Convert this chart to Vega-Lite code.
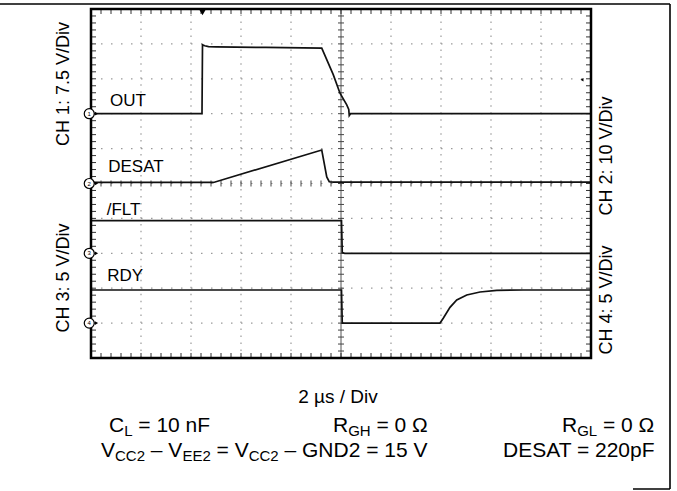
{
  "$schema": "https://vega.github.io/schema/vega-lite/v6.json",
  "width": 500,
  "height": 349,
  "autosize": {"type": "none"},
  "padding": {"left": 91, "top": 9, "right": 86, "bottom": 133},
  "background": "white",
  "config": {"view": {"stroke": null}, "font": "Liberation Sans"},
  "datasets": {
    "xg": [{"t": -8}, {"t": -6}, {"t": -4}, {"t": -2}, {"t": 2}, {"t": 4}, {"t": 6}, {"t": 8}],
    "yg": [{"d": -4}, {"d": -3}, {"d": -2}, {"d": -1}, {"d": 0}, {"d": 1}, {"d": 2}, {"d": 3}, {"d": 4}],
    "xt": [{"t":-10},{"t":-9.6},{"t":-9.2},{"t":-8.8},{"t":-8.4},{"t":-8},{"t":-7.6},{"t":-7.2},{"t":-6.8},{"t":-6.4},{"t":-6},{"t":-5.6},{"t":-5.2},{"t":-4.8},{"t":-4.4},{"t":-4},{"t":-3.6},{"t":-3.2},{"t":-2.8},{"t":-2.4},{"t":-2},{"t":-1.6},{"t":-1.2},{"t":-0.8},{"t":-0.4},{"t":0},{"t":0.4},{"t":0.8},{"t":1.2},{"t":1.6},{"t":2},{"t":2.4},{"t":2.8},{"t":3.2},{"t":3.6},{"t":4},{"t":4.4},{"t":4.8},{"t":5.2},{"t":5.6},{"t":6},{"t":6.4},{"t":6.8},{"t":7.2},{"t":7.6},{"t":8},{"t":8.4},{"t":8.8},{"t":9.2},{"t":9.6},{"t":10}],
    "yt": [{"d":-5},{"d":-4.8},{"d":-4.6},{"d":-4.4},{"d":-4.2},{"d":-4},{"d":-3.8},{"d":-3.6},{"d":-3.4},{"d":-3.2},{"d":-3},{"d":-2.8},{"d":-2.6},{"d":-2.4},{"d":-2.2},{"d":-2},{"d":-1.8},{"d":-1.6},{"d":-1.4},{"d":-1.2},{"d":-1},{"d":-0.8},{"d":-0.6},{"d":-0.4},{"d":-0.2},{"d":0},{"d":0.2},{"d":0.4},{"d":0.6},{"d":0.8},{"d":1},{"d":1.2},{"d":1.4},{"d":1.6},{"d":1.8},{"d":2},{"d":2.2},{"d":2.4},{"d":2.6},{"d":2.8},{"d":3},{"d":3.2},{"d":3.4},{"d":3.6},{"d":3.8},{"d":4},{"d":4.2},{"d":4.4},{"d":4.6},{"d":4.8},{"d":5}],
    "frame": [
      {"t": -13.64, "d": 5.143, "t2": 13.16, "d2": 5.143},
      {"t": 13.16, "d": 5.143, "t2": 13.16, "d2": -8.754},
      {"t": 11.68, "d": -8.754, "t2": 13.16, "d2": -8.754}
    ],
    "gm": [{"d": 2, "n": "1"}, {"d": 0, "n": "2"}, {"d": -2, "n": "3"}, {"d": -4, "n": "4"}],
    "ch1": [
      {"t": -10, "v": 0}, {"t": -5.56, "v": 0}, {"t": -5.54, "v": 14.8}, {"t": -5.45, "v": 14.6},
      {"t": -5.3, "v": 14.4}, {"t": -5.0, "v": 14.35}, {"t": -3, "v": 14.25}, {"t": -0.77, "v": 14.1},
      {"t": -0.31, "v": 8.4}, {"t": -0.04, "v": 4.4}, {"t": 0.23, "v": 1.9}, {"t": 0.31, "v": 0.9},
      {"t": 0.33, "v": -0.4}, {"t": 0.38, "v": 0}, {"t": 10, "v": 0}
    ],
    "ch2": [
      {"t": -10, "v": 0.3}, {"t": -5.1, "v": 0.3}, {"t": -0.77, "v": 9.6}, {"t": -0.57, "v": 1.9},
      {"t": -0.47, "v": 0.5}, {"t": -0.3, "v": 0.4}, {"t": 10, "v": 0.4}
    ],
    "ch3": [
      {"t": -10, "v": 4.67}, {"t": 0.02, "v": 4.67}, {"t": 0.05, "v": 0.1}, {"t": 0.15, "v": 0}, {"t": 10, "v": 0}
    ],
    "ch4": [
      {"t": -10, "v": 4.74}, {"t": 0.02, "v": 4.74}, {"t": 0.05, "v": 0}, {"t": 3.96, "v": 0},
      {"t": 4.09, "v": 0.69}, {"t": 4.36, "v": 2.26}, {"t": 4.63, "v": 3.31}, {"t": 5.03, "v": 4.03},
      {"t": 5.56, "v": 4.46}, {"t": 6.23, "v": 4.7}, {"t": 7.28, "v": 4.74}, {"t": 10, "v": 4.74}
    ],
    "lbl": [
      {"t": -9.24, "d": 2.22, "text": "OUT"},
      {"t": -9.31, "d": 0.34, "text": "DESAT"},
      {"t": -9.37, "d": -0.9, "text": "/FLT"},
      {"t": -9.35, "d": -2.79, "text": "RDY"}
    ],
    "rot": [
      {"t": -11.08, "d": 2.85, "text": "CH 1: 7.5 V/Div"},
      {"t": -11.08, "d": -2.71, "text": "CH 3: 5 V/Div"},
      {"t": 10.64, "d": 0.79, "text": "CH 2: 10 V/Div"},
      {"t": 10.64, "d": -3.34, "text": "CH 4: 5 V/Div"}
    ],
    "timebase": [{"t": -0.12, "d": -6.29, "text": "2 µs / Div"}],
    "btm": [
      {"t": -9.28, "d": -7.12, "text": "C"},
      {"t": -8.108, "d": -7.12, "text": "= 10 nF"},
      {"t": -0.32, "d": -7.12, "text": "R"},
      {"t": 1.42, "d": -7.12, "text": "= 0 Ω"},
      {"t": 8.84, "d": -7.12, "text": "R"},
      {"t": 10.48, "d": -7.12, "text": "= 0 Ω"},
      {"t": -9.6, "d": -7.84, "text": "V"},
      {"t": -7.608, "d": -7.84, "text": "– V"},
      {"t": -4.976, "d": -7.84, "text": "= V"},
      {"t": -2.26, "d": -7.84, "text": "– GND2 = 15 V"},
      {"t": 6.48, "d": -7.84, "text": "DESAT = 220pF"}
    ],
    "sub": [
      {"t": -8.672, "d": -7.235, "text": "L"},
      {"t": 0.288, "d": -7.235, "text": "GH"},
      {"t": 9.448, "d": -7.235, "text": "GL"},
      {"t": -9.04, "d": -7.955, "text": "CC2"},
      {"t": -6.344, "d": -7.955, "text": "EE2"},
      {"t": -3.692, "d": -7.955, "text": "CC2"}
    ]
  },
  "resolve": {"scale": {"y": "independent"}},
  "layer": [
    {
      "layer": [
        {
          "data": {"name": "yg"},
          "mark": {"type": "rule", "color": "#9a9a9a", "strokeWidth": 1.2, "strokeDash": [1.5, 8.5]},
          "encoding": {
            "x": {"datum": -10, "type": "quantitative", "scale": {"domain": [-10, 10]}, "axis": null},
            "x2": {"datum": 10},
            "y": {"field": "d", "type": "quantitative", "scale": {"domain": [-5, 5]}, "axis": null}
          }
        },
        {
          "data": {"name": "xg"},
          "mark": {"type": "rule", "color": "#9a9a9a", "strokeWidth": 1.2, "strokeDash": [1.5, 5.48]},
          "encoding": {
            "x": {"field": "t", "type": "quantitative", "scale": {"domain": [-10, 10]}, "axis": null},
            "y": {"datum": -5, "type": "quantitative", "scale": {"domain": [-5, 5]}, "axis": null},
            "y2": {"datum": 5}
          }
        },
        {
          "data": {"values": [{}]},
          "mark": {"type": "rule", "color": "#555555", "strokeWidth": 1},
          "encoding": {
            "x": {"datum": 0, "type": "quantitative", "scale": {"domain": [-10, 10]}, "axis": null},
            "y": {"datum": -5, "type": "quantitative", "scale": {"domain": [-5, 5]}, "axis": null},
            "y2": {"datum": 5}
          }
        },
        {
          "data": {"name": "xt"},
          "mark": {"type": "rule", "color": "#333333", "strokeWidth": 1},
          "encoding": {
            "x": {"field": "t", "type": "quantitative", "scale": {"domain": [-10, 10]}, "axis": null},
            "y": {"datum": 5, "type": "quantitative", "scale": {"domain": [-5, 5]}, "axis": null},
            "y2": {"datum": 4.857}
          }
        },
        {
          "data": {"name": "xt"},
          "mark": {"type": "rule", "color": "#333333", "strokeWidth": 1},
          "encoding": {
            "x": {"field": "t", "type": "quantitative", "scale": {"domain": [-10, 10]}, "axis": null},
            "y": {"datum": -5, "type": "quantitative", "scale": {"domain": [-5, 5]}, "axis": null},
            "y2": {"datum": -4.857}
          }
        },
        {
          "data": {"name": "xt"},
          "mark": {"type": "rule", "color": "#444444", "strokeWidth": 1},
          "encoding": {
            "x": {"field": "t", "type": "quantitative", "scale": {"domain": [-10, 10]}, "axis": null},
            "y": {"datum": -0.086, "type": "quantitative", "scale": {"domain": [-5, 5]}, "axis": null},
            "y2": {"datum": 0.086}
          }
        },
        {
          "data": {"name": "yt"},
          "mark": {"type": "rule", "color": "#333333", "strokeWidth": 1},
          "encoding": {
            "x": {"datum": -10, "type": "quantitative", "scale": {"domain": [-10, 10]}, "axis": null},
            "x2": {"datum": -9.8},
            "y": {"field": "d", "type": "quantitative", "scale": {"domain": [-5, 5]}, "axis": null}
          }
        },
        {
          "data": {"name": "yt"},
          "mark": {"type": "rule", "color": "#333333", "strokeWidth": 1},
          "encoding": {
            "x": {"datum": 10, "type": "quantitative", "scale": {"domain": [-10, 10]}, "axis": null},
            "x2": {"datum": 9.8},
            "y": {"field": "d", "type": "quantitative", "scale": {"domain": [-5, 5]}, "axis": null}
          }
        },
        {
          "data": {"name": "yt"},
          "mark": {"type": "rule", "color": "#444444", "strokeWidth": 1},
          "encoding": {
            "x": {"datum": -0.12, "type": "quantitative", "scale": {"domain": [-10, 10]}, "axis": null},
            "x2": {"datum": 0.12},
            "y": {"field": "d", "type": "quantitative", "scale": {"domain": [-5, 5]}, "axis": null}
          }
        }
      ]
    },
    {
      "data": {"name": "ch1"},
      "mark": {"type": "line", "color": "#111111", "strokeWidth": 1.7},
      "encoding": {
        "x": {"field": "t", "type": "quantitative", "scale": {"domain": [-10, 10]}, "axis": null},
        "y": {"field": "v", "type": "quantitative", "scale": {"domain": [-52.5, 22.5]}, "axis": null}
      }
    },
    {
      "data": {"name": "ch2"},
      "mark": {"type": "line", "color": "#111111", "strokeWidth": 1.7},
      "encoding": {
        "x": {"field": "t", "type": "quantitative", "scale": {"domain": [-10, 10]}, "axis": null},
        "y": {"field": "v", "type": "quantitative", "scale": {"domain": [-50, 50]}, "axis": null}
      }
    },
    {
      "data": {"name": "ch3"},
      "mark": {"type": "line", "color": "#111111", "strokeWidth": 1.7},
      "encoding": {
        "x": {"field": "t", "type": "quantitative", "scale": {"domain": [-10, 10]}, "axis": null},
        "y": {"field": "v", "type": "quantitative", "scale": {"domain": [-15, 35]}, "axis": null}
      }
    },
    {
      "data": {"name": "ch4"},
      "mark": {"type": "line", "color": "#111111", "strokeWidth": 1.7},
      "encoding": {
        "x": {"field": "t", "type": "quantitative", "scale": {"domain": [-10, 10]}, "axis": null},
        "y": {"field": "v", "type": "quantitative", "scale": {"domain": [-5, 45]}, "axis": null}
      }
    },
    {
      "layer": [
        {
          "data": {"values": [{}]},
          "mark": {"type": "rect", "filled": false, "stroke": "black", "strokeWidth": 2.5},
          "encoding": {
            "x": {"datum": -10, "type": "quantitative", "scale": {"domain": [-10, 10]}, "axis": null},
            "x2": {"datum": 10},
            "y": {"datum": -5, "type": "quantitative", "scale": {"domain": [-5, 5]}, "axis": null},
            "y2": {"datum": 5}
          }
        },
        {
          "data": {"name": "frame"},
          "mark": {"type": "rule", "color": "black", "strokeWidth": 1.6, "clip": false},
          "encoding": {
            "x": {"field": "t", "type": "quantitative", "scale": {"domain": [-10, 10]}, "axis": null},
            "x2": {"field": "t2"},
            "y": {"field": "d", "type": "quantitative", "scale": {"domain": [-5, 5]}, "axis": null},
            "y2": {"field": "d2"}
          }
        },
        {
          "data": {"name": "gm"},
          "mark": {"type": "point", "shape": "triangle-right", "filled": true, "color": "black", "size": 14, "opacity": 1},
          "encoding": {
            "x": {"datum": -9.78, "type": "quantitative", "scale": {"domain": [-10, 10]}, "axis": null},
            "y": {"field": "d", "type": "quantitative", "scale": {"domain": [-5, 5]}, "axis": null}
          }
        },
        {
          "data": {"name": "gm"},
          "mark": {"type": "point", "shape": "circle", "filled": true, "fill": "white", "stroke": "black", "strokeWidth": 1.2, "size": 100, "opacity": 1, "clip": false},
          "encoding": {
            "x": {"datum": -10.07, "type": "quantitative", "scale": {"domain": [-10, 10]}, "axis": null},
            "y": {"field": "d", "type": "quantitative", "scale": {"domain": [-5, 5]}, "axis": null}
          }
        },
        {
          "data": {"name": "gm"},
          "mark": {"type": "text", "fontSize": 6, "color": "black", "align": "center", "baseline": "middle", "clip": false},
          "encoding": {
            "x": {"datum": -10.07, "type": "quantitative", "scale": {"domain": [-10, 10]}, "axis": null},
            "y": {"field": "d", "type": "quantitative", "scale": {"domain": [-5, 5]}, "axis": null},
            "text": {"field": "n"}
          }
        },
        {
          "data": {"values": [{"t": -5.54, "d": 4.9}]},
          "mark": {"type": "point", "shape": "triangle-down", "filled": true, "color": "black", "size": 40, "opacity": 1},
          "encoding": {
            "x": {"field": "t", "type": "quantitative", "scale": {"domain": [-10, 10]}, "axis": null},
            "y": {"field": "d", "type": "quantitative", "scale": {"domain": [-5, 5]}, "axis": null}
          }
        },
        {
          "data": {"values": [{"t": 9.64, "d": 2.97}]},
          "mark": {"type": "point", "shape": "triangle-left", "filled": true, "color": "black", "size": 12, "opacity": 1},
          "encoding": {
            "x": {"field": "t", "type": "quantitative", "scale": {"domain": [-10, 10]}, "axis": null},
            "y": {"field": "d", "type": "quantitative", "scale": {"domain": [-5, 5]}, "axis": null}
          }
        },
        {
          "data": {"name": "lbl"},
          "mark": {"type": "text", "fontSize": 17, "color": "black", "align": "left", "baseline": "alphabetic"},
          "encoding": {
            "x": {"field": "t", "type": "quantitative", "scale": {"domain": [-10, 10]}, "axis": null},
            "y": {"field": "d", "type": "quantitative", "scale": {"domain": [-5, 5]}, "axis": null},
            "text": {"field": "text"}
          }
        },
        {
          "data": {"name": "rot"},
          "mark": {"type": "text", "fontSize": 18, "color": "black", "align": "center", "baseline": "middle", "angle": 270, "clip": false},
          "encoding": {
            "x": {"field": "t", "type": "quantitative", "scale": {"domain": [-10, 10]}, "axis": null},
            "y": {"field": "d", "type": "quantitative", "scale": {"domain": [-5, 5]}, "axis": null},
            "text": {"field": "text"}
          }
        },
        {
          "data": {"name": "timebase"},
          "mark": {"type": "text", "fontSize": 19, "color": "black", "align": "center", "baseline": "alphabetic", "clip": false},
          "encoding": {
            "x": {"field": "t", "type": "quantitative", "scale": {"domain": [-10, 10]}, "axis": null},
            "y": {"field": "d", "type": "quantitative", "scale": {"domain": [-5, 5]}, "axis": null},
            "text": {"field": "text"}
          }
        },
        {
          "data": {"name": "btm"},
          "mark": {"type": "text", "fontSize": 21, "color": "black", "align": "left", "baseline": "alphabetic", "clip": false},
          "encoding": {
            "x": {"field": "t", "type": "quantitative", "scale": {"domain": [-10, 10]}, "axis": null},
            "y": {"field": "d", "type": "quantitative", "scale": {"domain": [-5, 5]}, "axis": null},
            "text": {"field": "text"}
          }
        },
        {
          "data": {"name": "sub"},
          "mark": {"type": "text", "fontSize": 15, "color": "black", "align": "left", "baseline": "alphabetic", "clip": false},
          "encoding": {
            "x": {"field": "t", "type": "quantitative", "scale": {"domain": [-10, 10]}, "axis": null},
            "y": {"field": "d", "type": "quantitative", "scale": {"domain": [-5, 5]}, "axis": null},
            "text": {"field": "text"}
          }
        }
      ]
    }
  ]
}
